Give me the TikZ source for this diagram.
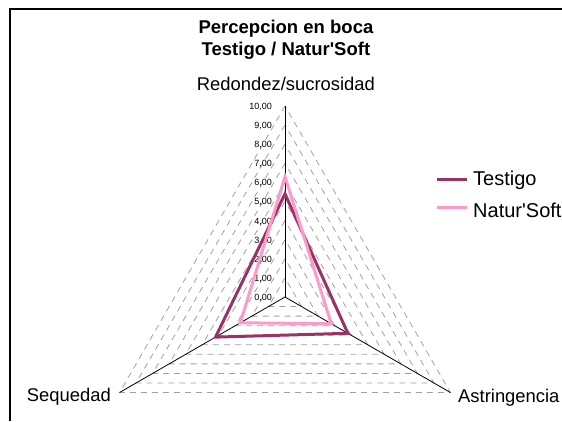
\documentclass[tikz,border=0pt]{standalone}
\usepackage{fontspec}
\setmainfont{Liberation Sans}
\definecolor{testigo}{HTML}{993366}
\definecolor{natursoft}{HTML}{FF99CC}
\definecolor{rejilla}{HTML}{A0A0A0}
\begin{document}
\begin{tikzpicture}[x=19.1pt,y=19.1pt,
		gridline/.style={color=rejilla, line width=0.8, dash pattern=on 6pt off 5pt},
		serie/.style={line width=3},
		ticklabel/.style={anchor=base east, inner sep=0, font=\fontsize{9}{10}\selectfont},
		axislabel/.style={inner sep=0, font=\fontsize{18.4}{21}\selectfont},
		leyenda/.style={anchor=base west, inner sep=0, font=\fontsize{20}{22}\selectfont}]
		\useasboundingbox (-14.921,-6.492) rectangle (14.503,15.550);
		\draw [line width=1.5] (-14.398,-6.492) -- (-14.398,15.079) -- (14.503,15.079);
		\draw [gridline] (90:1) -- (210:1) -- (330:1) -- cycle;
		\draw [gridline] (90:2) -- (210:2) -- (330:2) -- cycle;
		\draw [gridline] (90:3) -- (210:3) -- (330:3) -- cycle;
		\draw [gridline] (90:4) -- (210:4) -- (330:4) -- cycle;
		\draw [gridline] (90:5) -- (210:5) -- (330:5) -- cycle;
		\draw [gridline] (90:6) -- (210:6) -- (330:6) -- cycle;
		\draw [gridline] (90:7) -- (210:7) -- (330:7) -- cycle;
		\draw [gridline] (90:8) -- (210:8) -- (330:8) -- cycle;
		\draw [gridline] (90:9) -- (210:9) -- (330:9) -- cycle;
		\draw [gridline] (90:10) -- (210:10) -- (330:10) -- cycle;
		\coordinate (O) at (0,0);
		\coordinate (R) at (90:10);
		\coordinate (S) at (210:10);
		\coordinate (A) at (330:10);
		\draw [line width=0.8] (O) to (R);
		\draw [line width=0.8] (O) to (S);
		\draw [line width=0.8] (O) to (A);
		\node [ticklabel] (t0) at (-0.68,-0.18) {0,00};
		\node [ticklabel] (t1) at (-0.68,0.82) {1,00};
		\node [ticklabel] (t2) at (-0.68,1.82) {2,00};
		\node [ticklabel] (t3) at (-0.68,2.82) {3,00};
		\node [ticklabel] (t4) at (-0.68,3.82) {4,00};
		\node [ticklabel] (t5) at (-0.68,4.82) {5,00};
		\node [ticklabel] (t6) at (-0.68,5.82) {6,00};
		\node [ticklabel] (t7) at (-0.68,6.82) {7,00};
		\node [ticklabel] (t8) at (-0.68,7.82) {8,00};
		\node [ticklabel] (t9) at (-0.68,8.82) {9,00};
		\node [ticklabel] (t10) at (-0.68,9.82) {10,00};
		\coordinate (Tr) at (90:5.4);
		\coordinate (Ts) at (210:4.2);
		\coordinate (Ta) at (330:3.8);
		\coordinate (Nr) at (90:6.3);
		\coordinate (Ns) at (210:2.7);
		\coordinate (Na) at (330:2.8);
		\draw [serie, color=testigo] (Tr) -- (Ts) -- (Ta) -- cycle;
		\draw [serie, color=natursoft] (Nr) -- (Ns) -- (Na) -- cycle;
		\node [axislabel, anchor=base] (lr) at (0.05,10.812) {Redondez/sucrosidad};
		\node [axislabel, anchor=base east] (ls) at (-9.110,-5.482) {Sequedad};
		\node [axislabel, anchor=base west] (la) at (9.058,-5.51) {Astringencia};
		\node [anchor=base, inner sep=0, font=\bfseries\fontsize{18.5}{21}\selectfont] (titulo) at (0.05,13.822) {Percepcion en boca};
		\node [anchor=base, inner sep=0, font=\bfseries\fontsize{18.5}{21}\selectfont] (subtitulo) at (0.05,12.670) {Testigo / Natur\textquotesingle Soft};
		\coordinate (Lta) at (7.958,6.178);
		\coordinate (Ltb) at (9.529,6.178);
		\coordinate (Lna) at (7.958,4.712);
		\coordinate (Lnb) at (9.529,4.712);
		\draw [serie, color=testigo] (Lta) to (Ltb);
		\draw [serie, color=natursoft] (Lna) to (Lnb);
		\node [leyenda] (lt) at (9.843,5.827) {Testigo};
		\node [leyenda] (ln) at (9.843,4.152) {Natur\textquotesingle Soft};
	\end{tikzpicture}
\end{document}
